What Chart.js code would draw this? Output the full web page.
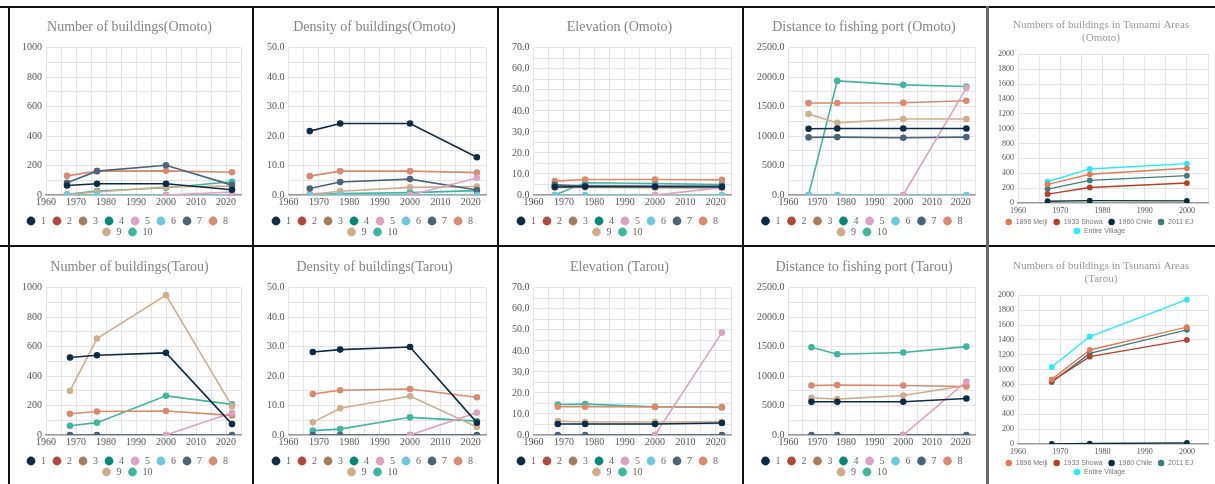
<!DOCTYPE html>
<html><head><meta charset="utf-8">
<script src="https://cdn.jsdelivr.net/npm/chart.js@4/dist/chart.umd.min.js"></script>
<style>
body{margin:0;background:#fff;width:1215px;height:484px;overflow:hidden;position:relative}
canvas{position:absolute}
.l{position:absolute;background:#111}
</style></head><body>
<div class="l" style="left:0;top:6px;width:1215px;height:2px"></div>
<div class="l" style="left:0;top:245px;width:1215px;height:2px"></div>
<div class="l" style="left:8px;top:6px;width:2px;height:478px"></div>
<div class="l" style="left:252px;top:6px;width:2px;height:478px"></div>
<div class="l" style="left:497px;top:6px;width:2px;height:478px"></div>
<div class="l" style="left:742px;top:6px;width:2px;height:478px"></div>
<div class="l" style="left:986px;top:6px;width:3px;height:478px;background:#6a6a6a"></div>
<canvas id="c1" width="242" height="239" style="left:10px;top:8px"></canvas>
<canvas id="c2" width="242" height="239" style="left:255px;top:8px"></canvas>
<canvas id="c3" width="242" height="239" style="left:500px;top:8px"></canvas>
<canvas id="c4" width="241" height="239" style="left:745px;top:8px"></canvas>
<canvas id="c5" width="225" height="237" style="left:990px;top:8px"></canvas>
<canvas id="c6" width="242" height="239" style="left:10px;top:248px"></canvas>
<canvas id="c7" width="242" height="239" style="left:255px;top:248px"></canvas>
<canvas id="c8" width="242" height="239" style="left:500px;top:248px"></canvas>
<canvas id="c9" width="241" height="239" style="left:745px;top:248px"></canvas>
<canvas id="c10" width="225" height="238" style="left:990px;top:248px"></canvas>
<script>
// ---------- DATA ----------
const omotoYears = [1967, 1977, 2000, 2022];
const tarouYears = [1968, 1977, 2000, 2022];
const seriesNames = ['1','2','3','4','5','6','7','8','9','10'];
const seriesColors = ['#0d2c47','#b5483a','#a67c5b','#008975','#dba3c1','#6ccadb','#4b6479','#d98b72','#cfae8f','#40b5a0'];

// values per series 1..10 (null = series has no data)
const omotoCount = [[65,76,76,36], null, null, null, [null,null,0,20], [0,0,0,0], [83,162,202,67], [130,162,164,155], [3,20,55,60], [5,27,49,90]];
const omotoDensity = [[21.7,24.3,24.3,12.8], null, null, null, [null,null,0,5.8], [0,0,0,0], [2.2,4.4,5.4,1.7], [6.4,8.1,8.1,7.6], [0.2,1.3,2.6,2.9], [0.1,0.5,0.8,1.5]];
const omotoElevation = [[3.8,4.0,3.9,3.8], null, null, null, [null,null,0,3.5], [0,0,0,0], [4.8,4.2,4.2,4.3], [6.6,7.4,7.4,7.2], [3.5,3.6,3.4,3.2], [0,5.8,5.5,5.0]];
const omotoDistance = [[1124,1129,1129,1129], null, null, null, [null,null,0,1820], [0,0,0,0], [978,983,972,983], [1562,1562,1567,1601], [1376,1225,1292,1292], [0,1938,1871,1843]];

const tarouCount = [[526,542,558,74], null, null, null, [null,null,0,151], null, [0,0,0,0], [144,160,163,133], [300,655,950,196], [63,84,266,208]];
const tarouDensity = [[28.2,29.0,29.9,4.2], null, null, null, [null,null,0,7.6], null, [0,0,0,0], [13.9,15.2,15.6,12.8], [4.3,9.1,13.2,2.7], [1.5,2.0,6.0,4.7]];
const tarouElevation = [[5.2,5.2,5.2,5.7], null, null, null, [null,null,0,48.7], null, [0,0,0,0], [13.4,13.4,13.3,13.3], [6.6,6.2,6.2,6.3], [14.5,14.7,13.4,13.1]];
const tarouDistance = [[564,564,564,621], null, null, null, [null,null,0,909], null, [0,0,0,0], [841,847,841,824], [632,609,672,841], [1490,1371,1400,1501]];

const tsunamiNames = ['1896 Meiji','1933 Showa','1960 Chile','2011 EJ','Entire Village'];
const tsunamiColors = ['#e07b5c','#b4402a','#0c2c3c','#3f7c7a','#22eef5'];
const omotoTsunamiYears = [1967, 1977, 2000];
const omotoTsunami = [[249,385,466],[118,208,267],[23,30,27],[186,303,367],[285,457,529]];
const tarouTsunamiYears = [1968, 1977, 2000];
const tarouTsunami = [[868,1264,1571],[845,1174,1400],[0,5,14],[832,1219,1535],[1034,1445,1941]];

// ---------- CHART BUILDING ----------
const SERIF = "'Liberation Serif', 'DejaVu Serif', serif";
const SANS = "'Liberation Sans', Arial, sans-serif";

function buildDatasets(years, values, names, colors, ptR, bw) {
  return names.map((n, i) => ({
    label: n,
    data: values[i] ? values[i].map((v, j) => ({x: years[j], y: v})) : [],
    borderColor: colors[i],
    backgroundColor: colors[i],
    pointBackgroundColor: colors[i],
    pointBorderColor: colors[i],
    borderWidth: bw,
    pointRadius: ptR,
    tension: 0
  }));
}

function makePanel(id, opt) {
  const big = !opt.small;
  const tickFont = {family: SERIF, size: big ? 10 : 8};
  new Chart(document.getElementById(id), {
    type: 'line',
    data: {datasets: buildDatasets(opt.years, opt.values, opt.names, opt.colors, big ? 2.5 : 2.2, big ? 1.6 : 1.4)},
    options: {
      responsive: false, animation: false, devicePixelRatio: 1,
      layout: {padding: opt.pad},
      plugins: {
        tooltip: {enabled: false},
        title: {display: true, text: opt.title, color: big ? '#858585' : '#9a9a9a',
          font: {family: SERIF, size: big ? 14 : 11, weight: 'normal', lineHeight: big ? 1.2 : 1.15},
          padding: {top: 0, bottom: opt.titleGap}},
        legend: {position: 'bottom', align: 'center',
          labels: {usePointStyle: true, pointStyle: 'circle', boxWidth: big ? 10 : 7, boxHeight: big ? 6.2 : 4.6,
            padding: big ? 1 : 2, color: big ? '#666' : '#777',
            font: {family: big ? SERIF : SANS, size: big ? 10 : 7},
            generateLabels: (chart) => chart.data.datasets.map((d, i) => ({
              text: d.label + '\u2002', fillStyle: d.borderColor, strokeStyle: d.borderColor,
              lineWidth: 0, pointStyle: 'circle', datasetIndex: i, hidden: false, fontColor: big ? '#666' : '#777'}))
          }}
      },
      scales: {
        x: {type: 'linear', min: 1960, max: opt.xMax,
          grid: {color: '#e4e4e4', drawTicks: false, lineWidth: 1},
          border: {display: true, color: '#9a9a9a', width: 1.5},
          ticks: {stepSize: 5, autoSkip: false, maxRotation: 0, padding: big ? 1 : 3, color: '#555', font: tickFont,
            callback: (v) => (v % 10 === 0 ? String(v) : '')},
          afterFit: (scale) => { scale.height += opt.axisGap; }},
        y: {min: 0, max: opt.yMax,
          grid: {color: '#e4e4e4', drawTicks: false, lineWidth: 1},
          border: {display: false},
          ticks: {stepSize: opt.yGrid, autoSkip: false, padding: 4, color: '#555', font: tickFont,
            callback: (v) => (Math.round(v / opt.yLabel * 1000) % 1000 === 0 ? v.toFixed(opt.dec) : '')}}
      }
    }
  });
}

const padBig = {top: 11, bottom: 0, left: 8, right: 11};
const padS5 = {top: 11, bottom: 0.5, left: 4, right: 7};
const padS10 = {top: 12, bottom: 0.5, left: 4, right: 7};

makePanel('c1', {title: 'Number of buildings(Omoto)', years: omotoYears, values: omotoCount, names: seriesNames, colors: seriesColors, xMax: 2025, yMax: 1000, yGrid: 100, yLabel: 200, dec: 0, pad: padBig, titleGap: 12, axisGap: 6});
makePanel('c2', {title: 'Density of buildings(Omoto)', years: omotoYears, values: omotoDensity, names: seriesNames, colors: seriesColors, xMax: 2025, yMax: 50, yGrid: 5, yLabel: 10, dec: 1, pad: padBig, titleGap: 12, axisGap: 6});
makePanel('c3', {title: 'Elevation (Omoto)', years: omotoYears, values: omotoElevation, names: seriesNames, colors: seriesColors, xMax: 2025, yMax: 70, yGrid: 5, yLabel: 10, dec: 1, pad: padBig, titleGap: 12, axisGap: 6});
makePanel('c4', {title: 'Distance to fishing port (Omoto)', years: omotoYears, values: omotoDistance, names: seriesNames, colors: seriesColors, xMax: 2025, yMax: 2500, yGrid: 250, yLabel: 500, dec: 1, pad: padBig, titleGap: 12, axisGap: 6});
makePanel('c5', {small: true, title: ['Numbers of buildings in Tsunami Areas', '(Omoto)'], years: omotoTsunamiYears, values: omotoTsunami, names: tsunamiNames, colors: tsunamiColors, xMax: 2005, yMax: 2000, yGrid: 200, yLabel: 200, dec: 0, pad: padS5, titleGap: 10, axisGap: -2});
makePanel('c6', {title: 'Number of buildings(Tarou)', years: tarouYears, values: tarouCount, names: seriesNames, colors: seriesColors, xMax: 2025, yMax: 1000, yGrid: 100, yLabel: 200, dec: 0, pad: padBig, titleGap: 12, axisGap: 6});
makePanel('c7', {title: 'Density of buildings(Tarou)', years: tarouYears, values: tarouDensity, names: seriesNames, colors: seriesColors, xMax: 2025, yMax: 50, yGrid: 5, yLabel: 10, dec: 1, pad: padBig, titleGap: 12, axisGap: 6});
makePanel('c8', {title: 'Elevation (Tarou)', years: tarouYears, values: tarouElevation, names: seriesNames, colors: seriesColors, xMax: 2025, yMax: 70, yGrid: 5, yLabel: 10, dec: 1, pad: padBig, titleGap: 12, axisGap: 6});
makePanel('c9', {title: 'Distance to fishing port (Tarou)', years: tarouYears, values: tarouDistance, names: seriesNames, colors: seriesColors, xMax: 2025, yMax: 2500, yGrid: 250, yLabel: 500, dec: 1, pad: padBig, titleGap: 12, axisGap: 6});
makePanel('c10', {small: true, title: ['Numbers of buildings in Tsunami Areas', '(Tarou)'], years: tarouTsunamiYears, values: tarouTsunami, names: tsunamiNames, colors: tsunamiColors, xMax: 2005, yMax: 2000, yGrid: 200, yLabel: 200, dec: 0, pad: padS10, titleGap: 10, axisGap: -2});
</script>
</body></html>
